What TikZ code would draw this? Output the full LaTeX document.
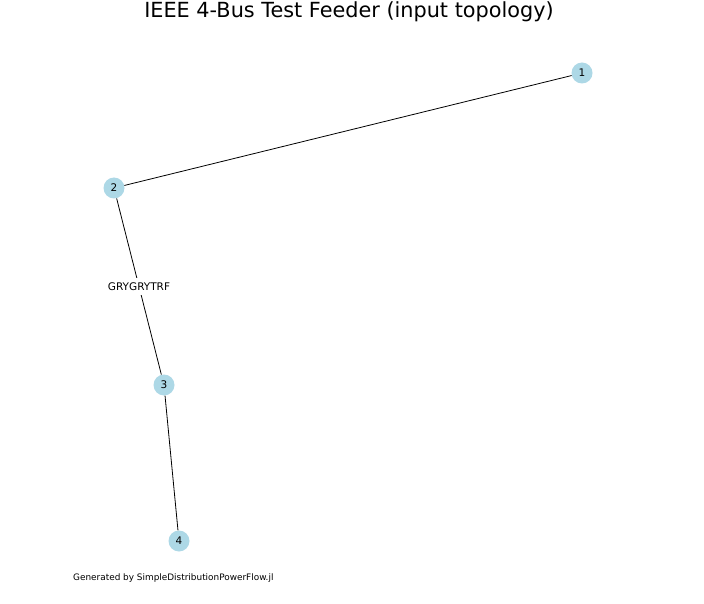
\documentclass[tikz,border=0pt]{standalone}
\usepackage{fontspec}
\setmainfont{DejaVu Sans}
\definecolor{busblue}{RGB}{173,216,230}
\tikzset{
  bus/.style={circle, fill=busblue, minimum size=21pt, inner sep=0pt, font=\fontsize{10.5}{12}\selectfont},
  branch/.style={draw=black, line width=0.8pt},
  branchlabel/.style={fill=white, inner sep=5pt, font=\fontsize{10.5}{12}\selectfont}
}
\begin{document}
\begin{tikzpicture}[x=1pt, y=-1pt]
  \useasboundingbox (0,0) rectangle (704,604);
  \node[font=\fontsize{20.8}{24}\selectfont] (title) at (349,12) {IEEE 4-Bus Test Feeder (input topology)};
  \foreach \n/\x/\y in {1/582/73, 2/114/188, 3/164/385, 4/179/541}{
    \node[bus] (b\n) at (\x,\y) {\n};
  }
  \draw[branch] (b1) -- (b2);
  \draw[branch] (b2) -- node[branchlabel] (trf) {GRYGRYTRF} (b3);
  \draw[branch] (b3) -- (b4);
  \node[anchor=west, inner sep=0pt, font=\fontsize{8.9}{10}\selectfont] (footer) at (73,578) {Generated by SimpleDistributionPowerFlow.jl};
\end{tikzpicture}
\end{document}
